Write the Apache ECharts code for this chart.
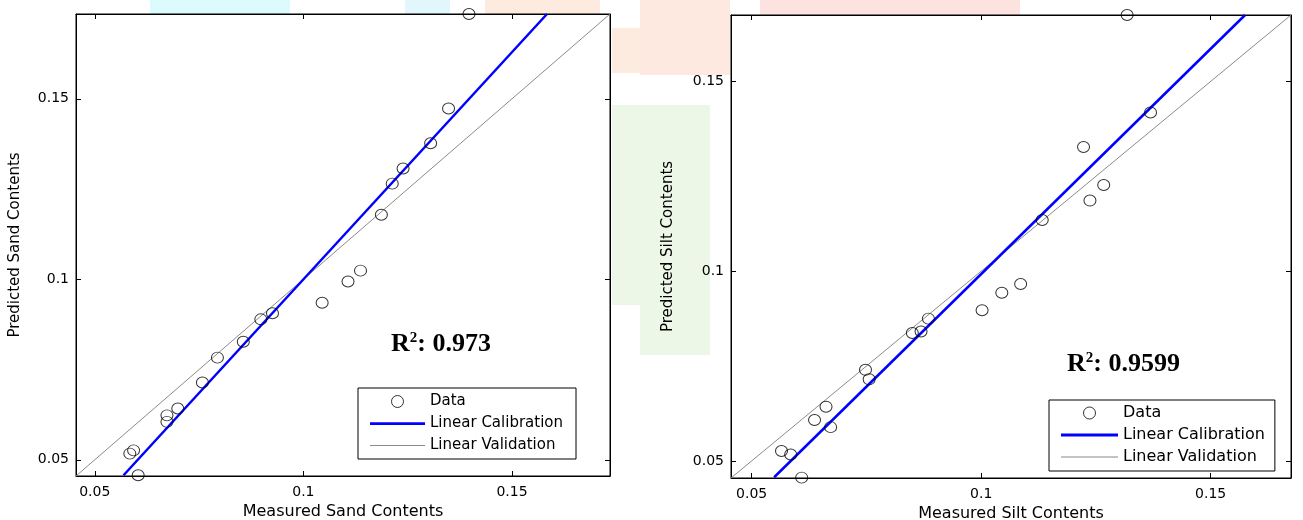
<!DOCTYPE html>
<html><head><meta charset="utf-8">
<script src="https://cdn.jsdelivr.net/npm/echarts@6/dist/echarts.min.js"></script>
<style>html,body{margin:0;padding:0;background:#fff}#c{width:1303px;height:520px}</style>
</head><body><div id="c"></div>
<script>
// ---------- data ----------
const tickValues = [0.05, 0.1, 0.15];
const tickLabels = ['0.05', '0.1', '0.15'];

const sandMeasured  = [0.1397,0.1348,0.1305,0.1239,0.1213,0.1187,0.1137,0.1107,0.1045,0.0926,0.0898,0.0856,0.0794,0.0758,0.0699,0.0673,0.0673,0.0593,0.0584,0.0604];
const sandPredicted = [0.1735,0.1473,0.1377,0.1307,0.1265,0.1179,0.1024,0.0994,0.0935,0.0906,0.0889,0.0827,0.0783,0.0714,0.0642,0.0623,0.0605,0.0526,0.0517,0.0457];
const sandCalX = [0.0569, 0.1584];
const sandCalY = [0.0457, 0.1735];
const sandRange = [0.0455, 0.1735];

const siltMeasured  = [0.1318,0.1369,0.1223,0.1267,0.1237,0.1133,0.1086,0.1045,0.1002,0.0885,0.0869,0.0850,0.0748,0.0756,0.0662,0.0637,0.0672,0.0565,0.0585,0.0609];
const siltPredicted = [0.1675,0.1418,0.1327,0.1227,0.1186,0.1135,0.0966,0.0943,0.0897,0.0875,0.0841,0.0837,0.0740,0.0715,0.0643,0.0608,0.0589,0.0526,0.0517,0.0456];
const siltCalX = [0.0549, 0.1575];
const siltCalY = [0.0457, 0.1675];
const siltRange = [0.0455, 0.1675];

const r2Values = ['0.973', '0.9599'];
const seriesNames = ['Data', 'Linear Calibration', 'Linear Validation'];
const xNames = ['Measured Sand Contents', 'Measured Silt Contents'];
const yNames = ['Predicted Sand Contents', 'Predicted Silt Contents'];

// ---------- helpers ----------
const SANS = 'DejaVu Sans';
const fmt = v => { const i = tickValues.findIndex(t => Math.abs(t - v) < 1e-9); return i >= 0 ? tickLabels[i] : ''; };
const pairs = (xs, ys) => xs.map((x, i) => [x, ys[i]]);

function axisBase(gi, range) {
  return {
    type: 'value', gridIndex: gi, min: range[0], max: range[1],
    splitLine: { show: false },
    axisLine: { show: true, onZero: false, lineStyle: { color: '#000', width: 1 } },
    axisTick: { show: true, inside: true, length: 5, customValues: tickValues, lineStyle: { color: '#000', width: 1 } }
  };
}
function labelCfg(margin) {
  return { show: true, customValues: tickValues, formatter: fmt, margin: margin, color: '#000', fontSize: 14, fontFamily: SANS };
}
const xAxes = [], yAxes = [];
const ranges = [sandRange, siltRange];
const yNameGaps = [53, 55];
const xNameGaps = [28, 28];
[0, 1].forEach(gi => {
  const r = ranges[gi];
  xAxes.push(Object.assign(axisBase(gi, r), {
    position: 'bottom', name: xNames[gi], nameLocation: 'middle', nameGap: xNameGaps[gi],
    nameTextStyle: { color: '#000', fontSize: 16, fontFamily: SANS },
    axisLabel: labelCfg(9)
  }));
  xAxes.push(Object.assign(axisBase(gi, r), { position: 'top', axisLabel: { show: false } }));
  yAxes.push(Object.assign(axisBase(gi, r), {
    position: 'left', name: yNames[gi], nameLocation: 'middle', nameGap: yNameGaps[gi],
    nameTextStyle: { color: '#000', fontSize: 15, fontFamily: SANS },
    axisLabel: labelCfg(7)
  }));
  yAxes.push(Object.assign(axisBase(gi, r), { position: 'right', axisLabel: { show: false } }));
});

const datasets = [
  { meas: sandMeasured, pred: sandPredicted, calX: sandCalX, calY: sandCalY, range: sandRange },
  { meas: siltMeasured, pred: siltPredicted, calX: siltCalX, calY: siltCalY, range: siltRange }
];
const series = [];
datasets.forEach((d, gi) => {
  const xi = gi * 2, yi = gi * 2;
  series.push({
    name: seriesNames[2], type: 'line', xAxisIndex: xi, yAxisIndex: yi, z: 2,
    data: pairs(d.range, d.range), symbol: 'none', silent: true,
    lineStyle: { color: '#8a8a8a', width: 1 }, itemStyle: { color: '#8a8a8a' }
  });
  series.push({
    name: seriesNames[1], type: 'line', xAxisIndex: xi, yAxisIndex: yi, z: 3,
    data: pairs(d.calX, d.calY), symbol: 'none', silent: true,
    lineStyle: { color: '#0000ff', width: 2.5 }, itemStyle: { color: '#0000ff' }
  });
  series.push({
    name: seriesNames[0], type: 'scatter', xAxisIndex: xi, yAxisIndex: yi, z: 4, clip: false,
    data: pairs(d.meas, d.pred), symbol: 'circle', symbolSize: [12, 11], silent: true,
    itemStyle: { color: 'rgba(0,0,0,0)', borderColor: '#000', borderWidth: 1 }
  });
});

function legendCfg(left, top, fontSize, itemWidth, itemGap, padding) {
  return {
    data: [
      { name: seriesNames[0], itemStyle: { color: 'rgba(0,0,0,0)', borderColor: '#000', borderWidth: 1 } },
      { name: seriesNames[1], icon: 'path://M0,0H100V5H0Z', itemStyle: { color: '#0000ff', borderWidth: 0 } },
      { name: seriesNames[2], icon: 'path://M0,0H100V2H0Z', itemStyle: { color: '#8a8a8a', borderWidth: 0 } }
    ],
    orient: 'vertical', left: left, top: top,
    itemWidth: itemWidth, itemHeight: 12, itemGap: itemGap, padding: padding,
    borderColor: '#000', borderWidth: 1, backgroundColor: '#fff', borderRadius: 0,
    selectedMode: false,
    textStyle: { color: '#000', fontSize: fontSize, fontFamily: SANS }
  };
}

function r2Text(left, top, val) {
  return {
    type: 'text', left: left, top: top, z: 100,
    style: {
      text: '{r|R}{s|2}{r|: ' + val + '}', fill: '#000',
      rich: {
        r: { fontSize: 26, fontWeight: 'bold', fontFamily: 'Liberation Serif', fill: '#000' },
        s: { fontSize: 15, fontWeight: 'bold', fontFamily: 'Liberation Serif', fill: '#000', verticalAlign: 'top', lineHeight: 14 }
      }
    }
  };
}

// faint watermark patches in the margins
const wm = (x, y, w, h, c) => ({ type: 'rect', z: -10, silent: true, shape: { x: x, y: y, width: w, height: h }, style: { fill: c } });

const gridBase = { show: true, backgroundColor: '#fff', borderColor: '#000', borderWidth: 1, containLabel: false, outerBoundsMode: 'none' };
const option = {
  backgroundColor: '#fff',
  animation: false,
  grid: [
    Object.assign({ left: 76, top: 14, width: 534, height: 462 }, gridBase),
    Object.assign({ left: 731, top: 15, width: 560, height: 463 }, gridBase)
  ],
  xAxis: xAxes,
  yAxis: yAxes,
  legend: [
    legendCfg(358, 388, 15, 55, 7, [6, 13, 6, 12]),
    legendCfg(1049, 400, 16, 57, 6, [5, 10, 6, 12])
  ],
  graphic: [
    wm(150, 0, 140, 14, '#dcfbfd'),
    wm(405, 0, 45, 14, '#e2f7fb'),
    wm(485, 0, 115, 14, '#fdebdf'),
    wm(612, 28, 28, 45, '#fdebdf'),
    wm(612, 105, 28, 200, '#edf7e8'),
    wm(640, 0, 90, 75, '#fde9df'),
    wm(760, 0, 260, 15, '#fde3df'),
    wm(640, 105, 70, 250, '#edf7e8'),
    r2Text(391, 331, r2Values[0]),
    r2Text(1067, 351, r2Values[1])
  ],
  series: series
};

const chart = echarts.init(document.getElementById('c'), null, { renderer: 'canvas' });
chart.setOption(option);
</script></body></html>
